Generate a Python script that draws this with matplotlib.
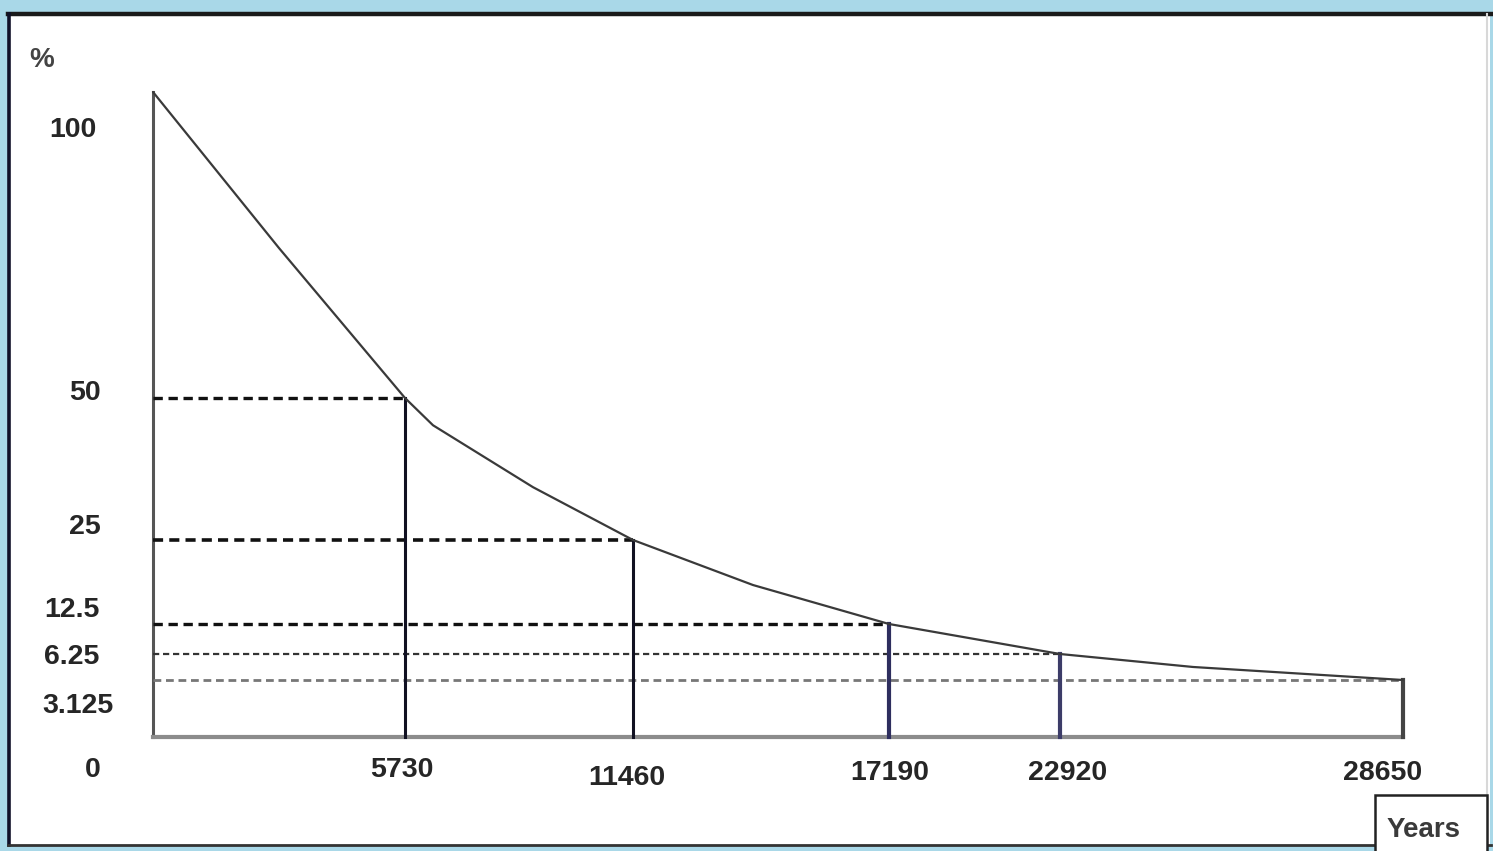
import numpy as np
import matplotlib
matplotlib.use("Agg")
import matplotlib.pyplot as plt
from matplotlib.patches import Rectangle
from matplotlib.lines import Line2D

# ---- data ----
half_life_years = [0, 5730, 11460, 17190, 22920, 28650]
x_tick_labels = ["5730", "11460", "17190", "22920", "28650"]
percent_levels = [0, 3.125, 6.25, 12.5, 25, 50, 100]
y_tick_labels = ["0", "3.125", "6.25", "12.5", "25", "50", "100"]
# curve points
curve_years = [0, 2865, 5730, 6434, 8947, 11460, 14146, 17190, 22920, 25142, 28650]
curve_pct = [100, 74.5, 50, 45.2, 34.3, 25, 18.3, 12.5, 6.25, 4.69, 3.125]
# guide lines: (year, percent)
guide_years = [5730, 11460, 17190, 22920, 28650]
guide_pct = [50, 25, 12.5, 6.25, 3.125]

# ---- layout (schematic, non-proportional axes) ----
W, H = 1493, 851
XPOS = [153, 405, 633, 889, 1060, 1403]          # pixel positions of half-life ticks
YPOS = [0, 57, 83, 113, 197, 339, 645]           # pixel heights of percent levels

def xf(v):
    return np.interp(v, half_life_years, XPOS)
def xi(p):
    return np.interp(p, XPOS, half_life_years)
def yf(v):
    return np.interp(v, percent_levels, YPOS)
def yi(p):
    return np.interp(p, YPOS, percent_levels)

font = ["Liberation Sans", "DejaVu Sans"]
plt.rcParams["font.family"] = font

fig = plt.figure(figsize=(W / 100, H / 100), dpi=100)
fig.patch.set_facecolor("#a9d8e8")

# white frame with dark border (top, left, bottom)
fig.patches.append(Rectangle((8 / W, (H - 845) / H), (1490 - 8) / W, (845 - 13) / H,
                             transform=fig.transFigure, facecolor="white",
                             edgecolor="none", zorder=-2))
fig.lines.append(Line2D([8 / W, 1 - 2 / W], [1 - 14 / H, 1 - 14 / H], transform=fig.transFigure,
                        color="#1a1a1a", lw=3.2, zorder=-1))
fig.lines.append(Line2D([9 / W, 9 / W], [1 - 14 / H, 1 - 845 / H], transform=fig.transFigure,
                        color="#101028", lw=2.6, zorder=-1))
fig.lines.append(Line2D([8 / W, 1 - 2 / W], [1 - 845 / H, 1 - 845 / H], transform=fig.transFigure,
                        color="#333333", lw=2.0, zorder=-1))
fig.lines.append(Line2D([1487 / W, 1487 / W], [1 - 14 / H, 1 - 845 / H], transform=fig.transFigure,
                        color="#d8d8d8", lw=1.5, zorder=-1))

ax_left, ax_right = 153 / W, 1403 / W
ax_bottom, ax_top = (H - 737) / H, (H - 92) / H
ax = fig.add_axes([ax_left, ax_bottom, ax_right - ax_left, ax_top - ax_bottom])
ax.set_zorder(2)
ax.set_facecolor("none")
ax.set_xscale("function", functions=(xf, xi))
ax.set_yscale("function", functions=(yf, yi))
ax.set_xlim(0, 28650)
ax.set_ylim(0, 100)

for s in ["top", "right"]:
    ax.spines[s].set_visible(False)
ax.spines["left"].set_color("#555555")
ax.spines["left"].set_linewidth(2.2)
ax.spines["bottom"].set_color("#8c8c8c")
ax.spines["bottom"].set_linewidth(3)
ax.set_xticks([])
ax.set_yticks([])
ax.minorticks_off()

# curve
ax.plot(curve_years, curve_pct, color="#3a3a3a", lw=1.6, solid_capstyle="round",
        solid_joinstyle="round", clip_on=False, zorder=4)

# dashed horizontal guides
h_styles = [
    dict(color="#111111", lw=2.4),
    dict(color="#111111", lw=2.6),
    dict(color="#111111", lw=2.4),
    dict(color="#333333", lw=1.6),
    dict(color="#777777", lw=2.0),
]
for yr, pc, st in zip(guide_years, guide_pct, h_styles):
    ax.plot([0, yr], [pc, pc], linestyle=(0, (2.8, 1.7)), clip_on=False, zorder=3, **st)

# vertical guides
v_styles = [
    dict(color="#111122", lw=2.2),
    dict(color="#111122", lw=2.2),
    dict(color="#2e2e5e", lw=3.0),
    dict(color="#3c3c68", lw=3.0),
    dict(color="#444444", lw=3.0),
]
for yr, pc, st in zip(guide_years, guide_pct, v_styles):
    ax.plot([yr, yr], [0, pc], clip_on=False, zorder=3, **st)

# y labels (offsets in pixels from tick point)
y_offsets = {"0": (-60, -33), "3.125": (-75, -26), "6.25": (-81, -3),
             "12.5": (-81, 14), "25": (-68, 13), "50": (-68, 5), "100": (-80, -38)}
for v, lab in zip(percent_levels, y_tick_labels):
    dx, dy = y_offsets[lab]
    ax.annotate(lab, xy=(0, v), xycoords="data", xytext=(dx, dy),
                textcoords="offset pixels", ha="center", va="center",
                fontsize=20.5, fontweight="bold", color="#262626", annotation_clip=False)

# x labels
x_offsets = [(-3, -33), (-6, -41), (1, -36), (8, -36), (-20, -36)]
for v, lab, (dx, dy) in zip(half_life_years[1:], x_tick_labels, x_offsets):
    ax.annotate(lab, xy=(v, 0), xycoords="data", xytext=(dx, dy),
                textcoords="offset pixels", ha="center", va="center",
                fontsize=20.5, fontweight="bold", color="#262626", annotation_clip=False)

# axis names
fig.text(42 / W, 1 - 60 / H, "%", ha="center", va="center", fontsize=20,
         fontweight="bold", color="#444444")
fig.patches.append(Rectangle((1375 / W, -0.01), (1487 - 1375) / W, (H - 795) / H + 0.01,
                             transform=fig.transFigure, facecolor="white",
                             edgecolor="#222222", linewidth=1.8, zorder=5))
fig.text(1424 / W, 1 - 830 / H, "Years", ha="center", va="center", fontsize=20,
         fontweight="bold", color="#3a3a3a", zorder=6)

fig.savefig("out.png", dpi=100)
